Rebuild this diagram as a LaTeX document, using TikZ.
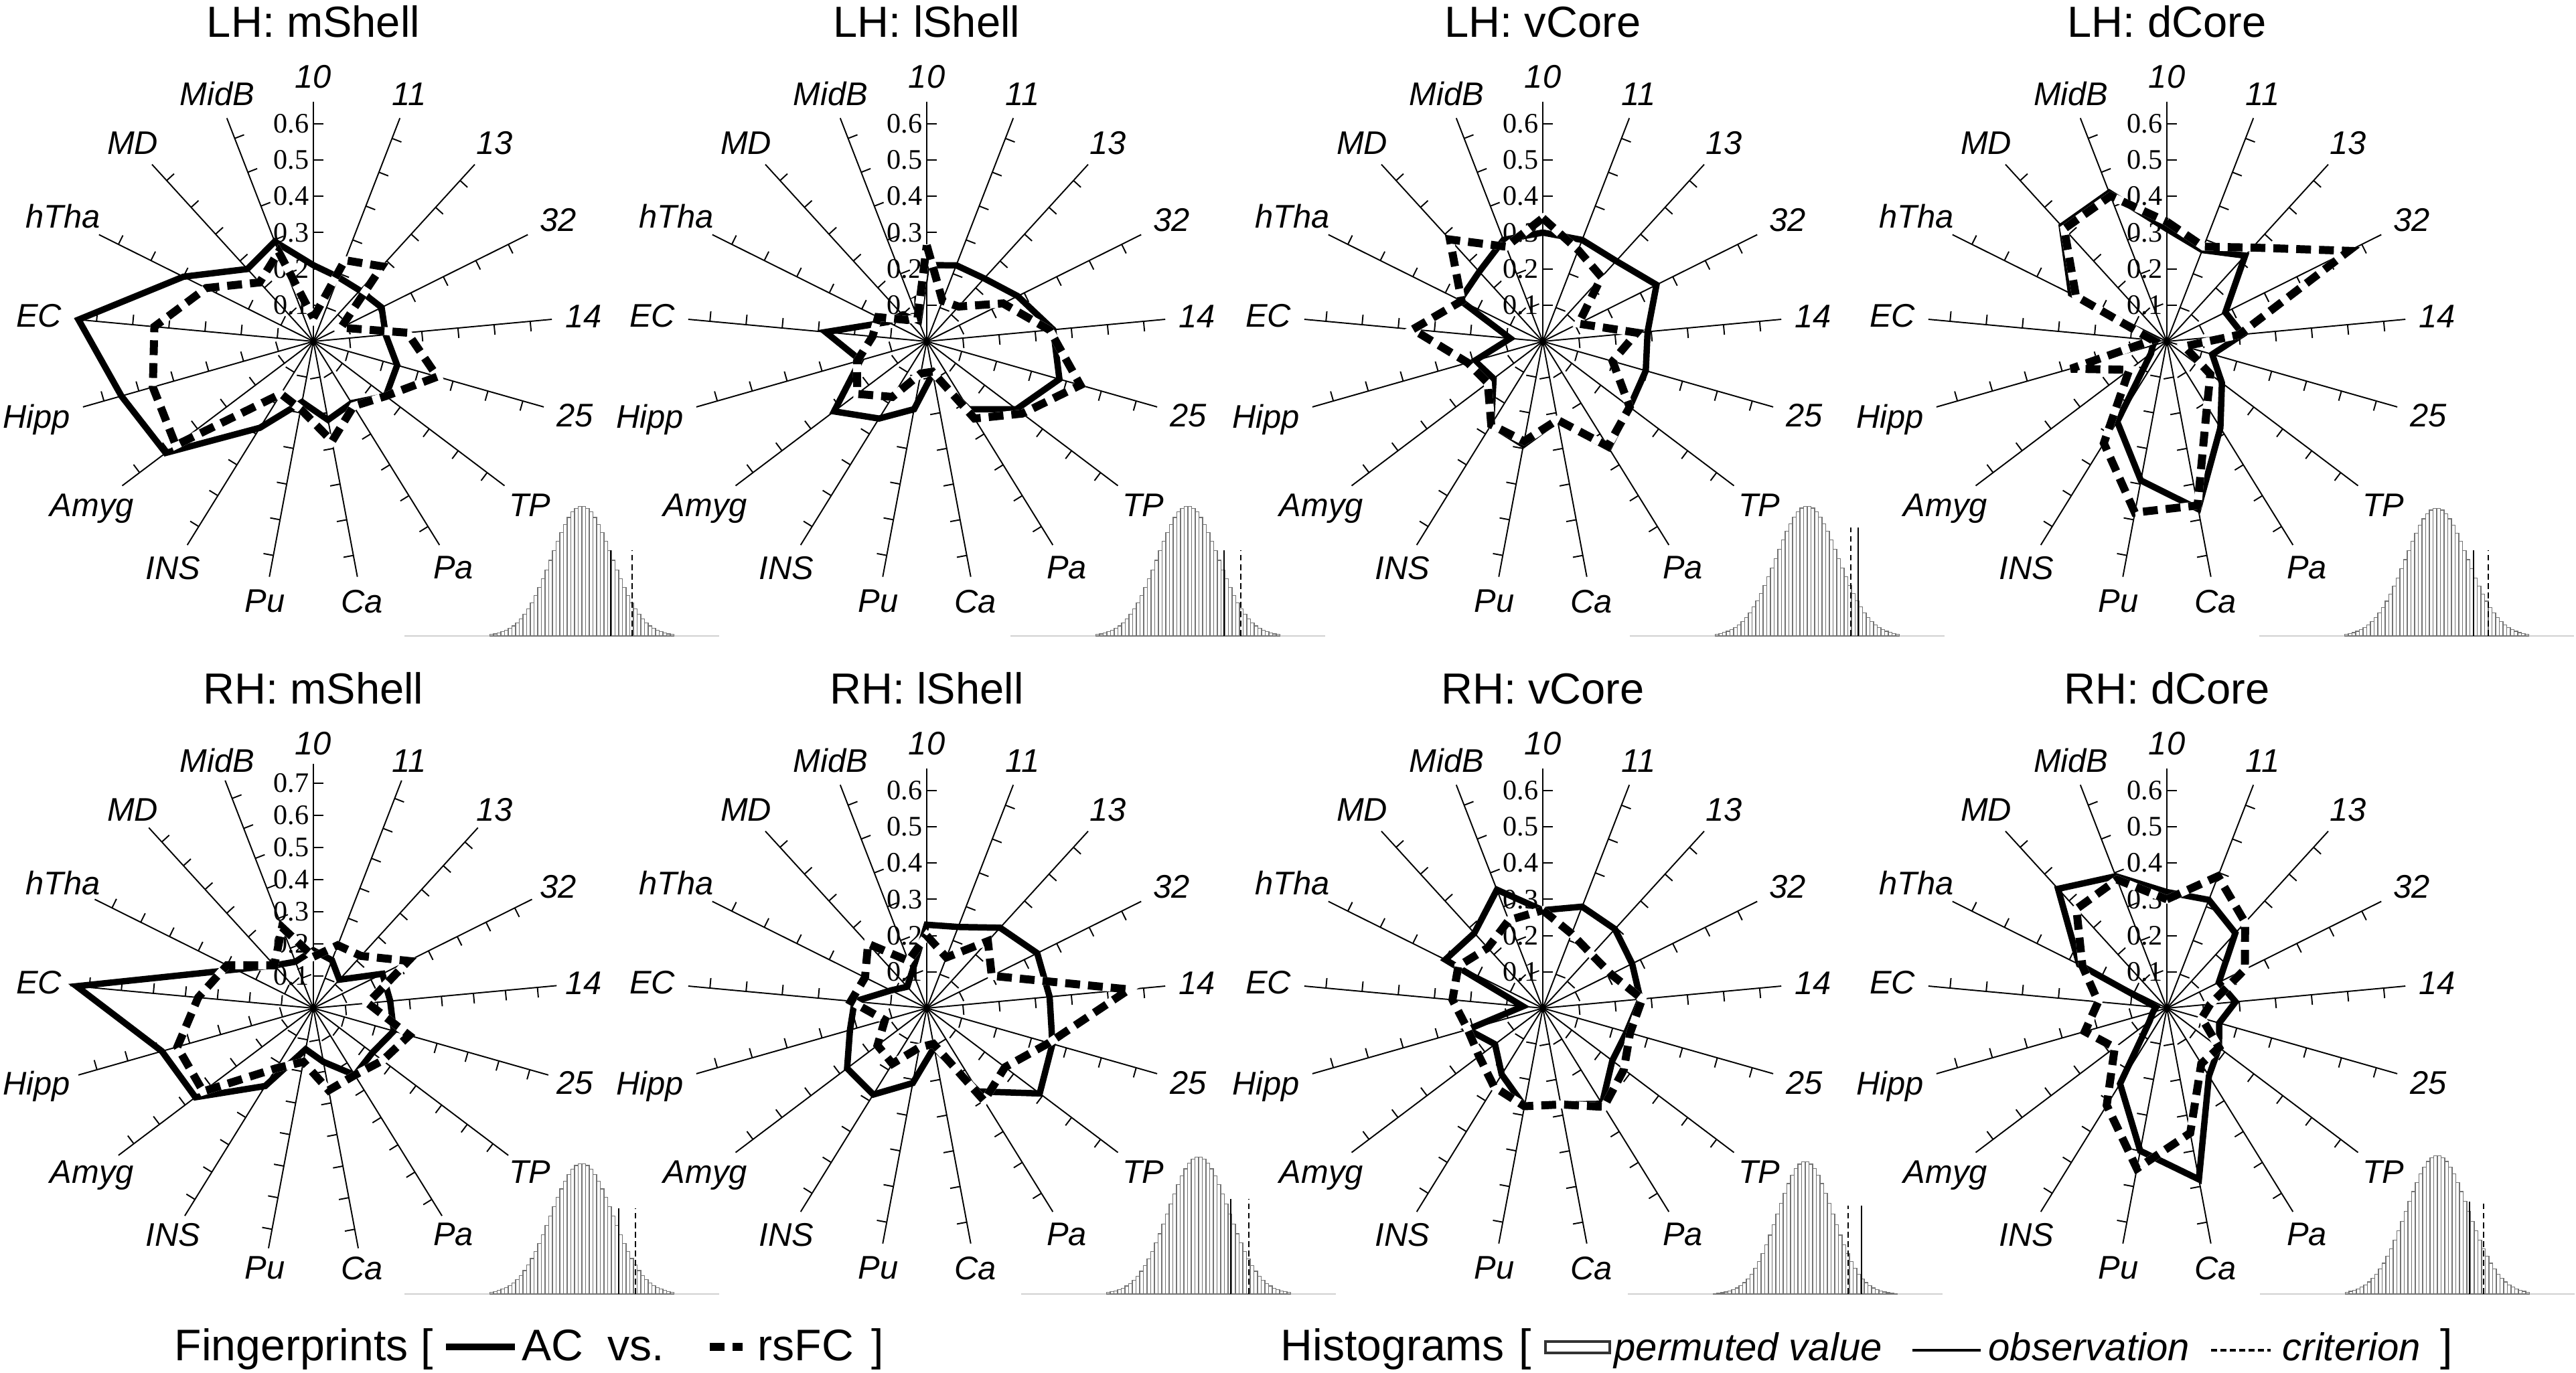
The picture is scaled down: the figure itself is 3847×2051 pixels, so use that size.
\documentclass[tikz,border=0pt]{standalone}
\usepackage{fontspec}
\setmainfont{Liberation Sans}
\newfontfamily\tickfont{Liberation Serif}
\usepackage{tikz}
\usetikzlibrary{calc}

\tikzset{
  spoke/.style={line width=0.55pt},
  paneltitle/.style={font=\fontsize{18.5pt}{20pt}\selectfont, anchor=base, inner sep=0pt},
  axlabel/.style={font=\fontsize{13.9pt}{15pt}\selectfont\itshape, inner sep=0pt},
  ticklab/.style={font=\tickfont\fontsize{12pt}{12pt}\selectfont, anchor=east, inner sep=0pt},
  acline/.style={line width=2.7pt, miter limit=4},
  fcback/.style={white, line width=3.4pt, miter limit=4},
  fcline/.style={black, line width=3.4pt, miter limit=4, dash pattern=on 6.3pt off 3.4pt},
  histbar/.style={draw=black!55, fill=white, line width=0.35pt},
  histbase/.style={black!18, line width=0.5pt},
  obsline/.style={line width=0.6pt},
  critline/.style={line width=0.6pt, dash pattern=on 2.5pt off 1.5pt},
  legend/.style={font=\fontsize{18.8pt}{20pt}\selectfont, inner sep=0pt, anchor=base west},
  legit/.style={font=\fontsize{16.5pt}{18pt}\selectfont\itshape, inner sep=0pt, anchor=base west}
}

% radar panel: id, x, y, px per unit, ticks, title, AC values, rsFC values
\newcommand{\radar}[8]{%
  \begin{scope}[shift={(#2,#3)}]
    \node[paneltitle] (#1-title) at (0,455) {#6};
    % spokes, ticks and region labels
    \foreach \lab [count=\k from 0] in {10,11,13,32,14,25,TP,Pa,Ca,Pu,INS,Amyg,Hipp,EC,hTha,MD,MidB} {
      \pgfmathsetmacro\ang{90-\k*360/17}
      \pgfmathtruncatemacro\anc{mod(630-\k*360/17,360)}
      \draw[spoke] (0,0) -- (\ang:{(#5+0.6)*0.1*#4});
      \foreach \i in {1,...,#5}
        \draw[spoke] (\ang:{\i*0.1*#4}) -- ++({\ang-90}:15);
      \node[axlabel, anchor=\anc] (#1-r\k) at (\ang:377) {\lab};
    }
    % scale on the 10 axis
    \foreach \i in {1,...,#5}
      \node[ticklab] (#1-t\i) at (-6,{\i*0.1*#4}) {0.\i};
    % AC
    \foreach \v [count=\k from 0] in {#7}
      \coordinate (#1-a\k) at ({90-\k*360/17}:{\v*#4});
    \draw[acline] (#1-a0) \foreach \k in {1,...,16} {-- (#1-a\k)} -- cycle;
    % rsFC
    \foreach \v [count=\k from 0] in {#8}
      \coordinate (#1-f\k) at ({90-\k*360/17}:{\v*#4});
    \draw[fcback] (#1-f0) \foreach \k in {1,...,16} {-- (#1-f\k)} -- cycle;
    \draw[fcline] (#1-f0) \foreach \k in {1,...,16} {-- (#1-f\k)} -- cycle;
  \end{scope}}

% histogram: peak x, base y, peak height, sigma, observation x, criterion x, line height
\newcommand{\histo}[7]{%
  \draw[histbase] (#1-265,#2) -- (#1+205,#2);
  \foreach \i in {-25,...,24} {
    \pgfmathsetmacro\bh{#3*exp(-0.5*(((\i+0.5)*5.5/#4)^2))}
    \draw[histbar] ({#1+\i*5.5},#2) rectangle ++(5.5,\bh);
  }
  \draw[obsline] (#5,#2) -- ++(0,#7);
  \draw[critline] (#6,#2) -- ++(0,#7);}

\begin{document}
\begin{tikzpicture}[x=0.01cm, y=0.01cm]
  \useasboundingbox (0,0) rectangle (3847,-2051);

  % Left hemisphere
  \radar{lhm}{468}{-510}{542}{6}{LH: mShell}
    {0.21,0.19,0.19,0.21,0.20,0.24,0.25,0.20,0.22,0.17,0.28,0.51,0.55,0.65,0.40,0.27,0.295}
    {0.065,0.24,0.28,0.085,0.26,0.355,0.25,0.21,0.28,0.19,0.17,0.475,0.46,0.44,0.33,0.22,0.265}
  \radar{lhl}{1384}{-510}{542}{6}{LH: lShell}
    {0.21,0.225,0.235,0.28,0.35,0.38,0.31,0.22,0.09,0.19,0.25,0.32,0.19,0.28,0.12,0.10,0.06}
    {0.265,0.12,0.13,0.235,0.34,0.44,0.33,0.25,0.085,0.09,0.18,0.24,0.20,0.15,0.15,0.08,0.07}
  \radar{lhv}{2304}{-510}{542}{6}{LH: vCore}
    {0.30,0.30,0.30,0.35,0.29,0.295,0.30,0.345,0.22,0.29,0.27,0.17,0.195,0.09,0.255,0.26,0.30}
    {0.34,0.27,0.24,0.11,0.26,0.20,0.30,0.34,0.22,0.28,0.27,0.19,0.215,0.36,0.25,0.38,0.28}
  \radar{lhd}{3236}{-510}{542}{6}{LH: dCore}
    {0.31,0.27,0.32,0.18,0.21,0.13,0.19,0.28,0.47,0.39,0.26,0.055,0.04,0.03,0.295,0.43,0.44}
    {0.33,0.28,0.35,0.56,0.20,0.05,0.15,0.21,0.46,0.48,0.33,0.13,0.275,0.04,0.28,0.42,0.43}

  % Right hemisphere
  \radar{rhm}{468}{-1506}{480}{7}{RH: mShell}
    {0.18,0.16,0.12,0.24,0.24,0.26,0.23,0.245,0.17,0.13,0.285,0.46,0.49,0.74,0.27,0.18,0.155}
    {0.16,0.21,0.22,0.33,0.17,0.31,0.27,0.245,0.26,0.17,0.22,0.43,0.44,0.36,0.30,0.18,0.27}
  \radar{rhl}{1384}{-1506}{542}{6}{RH: lShell}
    {0.23,0.24,0.30,0.34,0.34,0.36,0.39,0.27,0.11,0.21,0.28,0.275,0.22,0.20,0.11,0.08,0.11}
    {0.20,0.15,0.25,0.20,0.56,0.35,0.27,0.30,0.10,0.11,0.18,0.17,0.12,0.21,0.19,0.24,0.14}
  \radar{rhv}{2304}{-1506}{542}{6}{RH: vCore}
    {0.27,0.30,0.295,0.275,0.27,0.24,0.24,0.31,0.27,0.275,0.215,0.165,0.215,0.055,0.30,0.28,0.35}
    {0.27,0.22,0.20,0.21,0.275,0.25,0.28,0.32,0.27,0.275,0.255,0.22,0.215,0.25,0.26,0.225,0.26}
  \radar{rhd}{3236}{-1506}{542}{6}{RH: dCore}
    {0.32,0.32,0.28,0.16,0.19,0.15,0.18,0.22,0.48,0.40,0.245,0.06,0.04,0.03,0.27,0.445,0.39}
    {0.30,0.39,0.32,0.24,0.12,0.10,0.18,0.18,0.35,0.45,0.315,0.18,0.235,0.19,0.26,0.37,0.38}

  % Permutation histograms
  \histo{869}{-950}{194}{45}{912}{944}{128}
  \histo{1774}{-950}{194}{45}{1828}{1853}{128}
  \histo{2699}{-950}{194}{46}{2775}{2764}{162}
  \histo{3639}{-950}{191}{46}{3694}{3716}{128}
  \histo{869}{-1933}{195}{46}{924}{949}{128}
  \histo{1790}{-1933}{205}{45}{1838}{1865}{142}
  \histo{2696}{-1933}{198}{41}{2780}{2760}{132}
  \histo{3640}{-1933}{207}{46}{3688}{3709}{138}

  % Legend
  \node[legend] (fp) at (260,-2032) {Fingerprints};
  \node[legend] (fpl) at (628,-2032) {[};
  \draw[acline] (666,-2012) -- (769,-2012);
  \node[legend] (ac) at (779,-2032) {AC};
  \node[legend] (vs) at (907,-2032) {vs.};
  \draw[fcline] (1060,-2012) -- (1109,-2012);
  \node[legend] (fc) at (1131,-2032) {rsFC};
  \node[legend] (fpr) at (1301,-2032) {]};

  \node[legend] (hg) at (1912,-2032) {Histograms};
  \node[legend] (hgl) at (2268,-2032) {[};
  \draw[histbar, draw=black!80, line width=1pt] (2308,-2021) rectangle (2404,-2004);
  \node[legit] (pv) at (2410,-2032) {permuted value};
  \draw[obsline, line width=1pt] (2856,-2017) -- (2958,-2017);
  \node[legit] (ob) at (2969,-2032) {observation};
  \draw[critline, line width=1pt] (3302,-2017) -- (3391,-2017);
  \node[legit] (cr) at (3408,-2032) {criterion};
  \node[legend] (hgr) at (3644,-2032) {]};
\end{tikzpicture}
\end{document}
